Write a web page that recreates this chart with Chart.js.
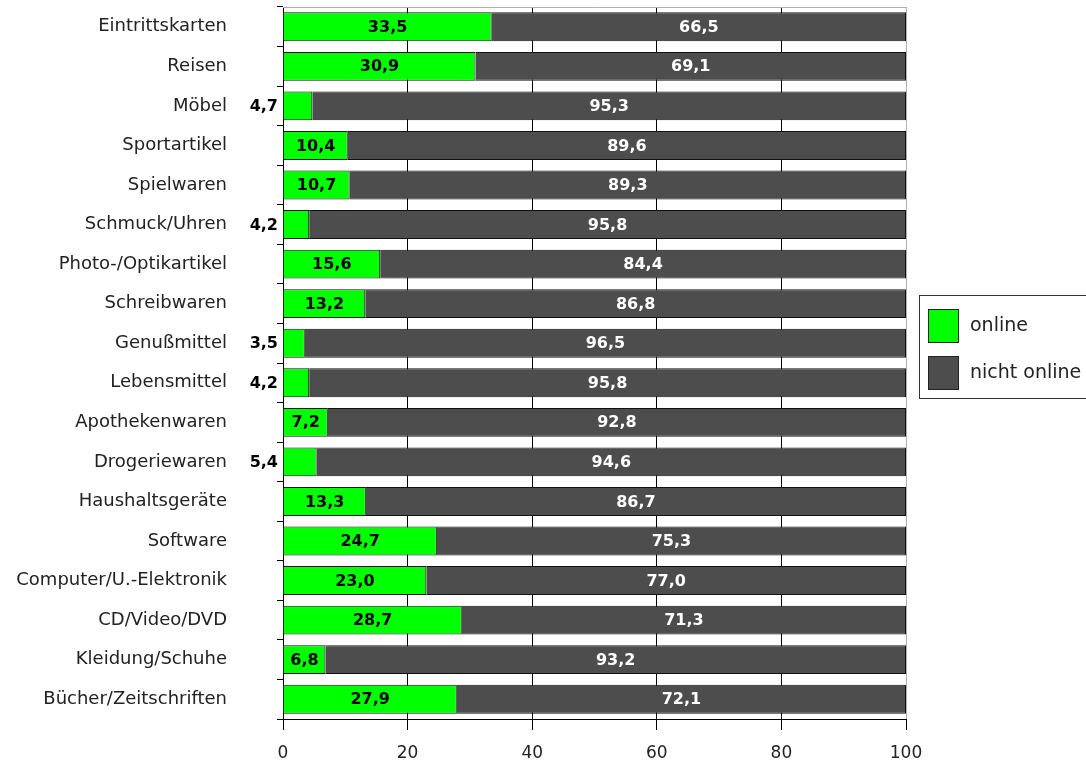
<!DOCTYPE html>
<html>
<head>
<meta charset="utf-8">
<script src="https://cdn.jsdelivr.net/npm/chart.js@4"></script>
<style>
  html, body { margin: 0; padding: 0; background: #fff; }
  #wrap { width: 1086px; height: 766px; }
</style>
</head>
<body>
<div id="wrap"><canvas id="chart1"></canvas></div>
<script>
const categories = ['Eintrittskarten', 'Reisen', 'Möbel', 'Sportartikel', 'Spielwaren', 'Schmuck/Uhren',
    'Photo-/Optikartikel', 'Schreibwaren', 'Genußmittel', 'Lebensmittel', 'Apothekenwaren', 'Drogeriewaren',
    'Haushaltsgeräte', 'Software', 'Computer/U.-Elektronik', 'CD/Video/DVD', 'Kleidung/Schuhe', 'Bücher/Zeitschriften'];
const online = [33.5, 30.9, 4.7, 10.4, 10.7, 4.2, 15.6, 13.2, 3.5, 4.2, 7.2, 5.4, 13.3, 24.7, 23.0, 28.7, 6.8, 27.9];
const nichtOnline = [66.5, 69.1, 95.3, 89.6, 89.3, 95.8, 84.4, 86.8, 96.5, 95.8, 92.8, 94.6, 86.7, 75.3, 77.0, 71.3, 93.2, 72.1];
const seriesNames = ['online', 'nicht online'];
const xTicks = [0, 20, 40, 60, 80, 100];

const fmt = v => v.toFixed(1).replace('.', ',');

// value labels inside the bars, small online values left of the axis
const valueLabels = {
    id: 'valueLabels',
    afterDatasetsDraw(chart) {
        const ctx = chart.ctx;
        const area = chart.chartArea;
        ctx.save();
        ctx.font = 'bold 16px "DejaVu Sans"';
        ctx.textBaseline = 'middle';
        chart.data.datasets.forEach((ds, di) => {
            const meta = chart.getDatasetMeta(di);
            meta.data.forEach((bar, i) => {
                const v = ds.data[i];
                if (di === 0) {
                    ctx.fillStyle = '#000';
                    if (v < 6) {
                        ctx.textAlign = 'right';
                        ctx.fillText(fmt(v), area.left - 5, bar.y + 1);
                    } else {
                        ctx.textAlign = 'center';
                        ctx.fillText(fmt(v), (bar.x + bar.base) / 2, bar.y + 1);
                    }
                } else {
                    ctx.fillStyle = '#fff';
                    ctx.textAlign = 'center';
                    ctx.fillText(fmt(v), (bar.x + bar.base) / 2, bar.y + 1);
                }
            });
        });
        ctx.restore();
    }
};

// framed legend box on the right plus the light top edge of the plot
const boxLegend = {
    id: 'boxLegend',
    afterDraw(chart) {
        const ctx = chart.ctx;
        const area = chart.chartArea;
        ctx.save();
        ctx.strokeStyle = '#b0b0b0';
        ctx.lineWidth = 1;
        ctx.beginPath();
        ctx.moveTo(area.left, area.top + 0.5);
        ctx.lineTo(area.right, area.top + 0.5);
        ctx.stroke();

        ctx.strokeStyle = '#333';
        ctx.fillStyle = '#fff';
        ctx.fillRect(919.5, 295.5, 180, 103);
        ctx.strokeRect(919.5, 295.5, 180, 103);
        ctx.font = '19px "DejaVu Sans"';
        ctx.textBaseline = 'middle';
        ctx.textAlign = 'left';
        chart.data.datasets.forEach((ds, i) => {
            const y = 309 + i * 47;
            ctx.fillStyle = ds.backgroundColor;
            ctx.fillRect(928.5, y + 0.5, 30, 33);
            ctx.strokeStyle = '#222';
            ctx.strokeRect(928.5, y + 0.5, 30, 33);
            ctx.fillStyle = '#222';
            ctx.fillText(ds.label, 970, y + 17);
        });
        ctx.restore();
    }
};

const ctx = document.getElementById('chart1').getContext('2d');
const chart1 = new Chart(ctx, {
    type: 'bar',
    data: {
        labels: categories,
        datasets: [
            {
                label: seriesNames[0],
                data: online,
                backgroundColor: '#00ff00',
                borderColor: '#111',
                borderWidth: 1,
            },
            {
                label: seriesNames[1],
                data: nichtOnline,
                backgroundColor: '#4d4d4d',
                borderColor: '#111',
                borderWidth: 1,
            }
        ]
    },
    options: {
        indexAxis: 'y',
        responsive: true,
        maintainAspectRatio: false,
        animation: false,
        layout: { padding: { top: 7, right: 180, left: 0, bottom: 0 } },
        datasets: { bar: { barPercentage: 0.73, categoryPercentage: 1 } },
        scales: {
            x: {
                stacked: true,
                min: 0,
                max: 100,
                afterBuildTicks: scale => { scale.ticks = xTicks.map(v => ({ value: v })); },
                grid: {
                    color: c => c.index === xTicks.length - 1 ? '#b0b0b0' : '#000',
                    tickColor: '#000',
                    tickLength: 11,
                    lineWidth: 1
                },
                border: { color: '#000', width: 1 },
                ticks: { color: '#222', font: { family: 'DejaVu Sans', size: 17 }, padding: 13 },
                afterFit: scale => { scale.height = 47; }
            },
            y: {
                stacked: true,
                grid: { offset: true, drawOnChartArea: false, tickLength: 6, tickColor: '#000' },
                border: { color: '#000', width: 1 },
                ticks: { color: '#222', font: { family: 'DejaVu Sans', size: 18 }, padding: 50 },
                afterFit: scale => {
                    scale.width = 283;
                    scale.paddingTop = 0;
                    scale.paddingBottom = 0;
                }
            }
        },
        plugins: {
            legend: { display: false },
            tooltip: { enabled: false }
        }
    },
    plugins: [valueLabels, boxLegend]
});
</script>
</body>
</html>
